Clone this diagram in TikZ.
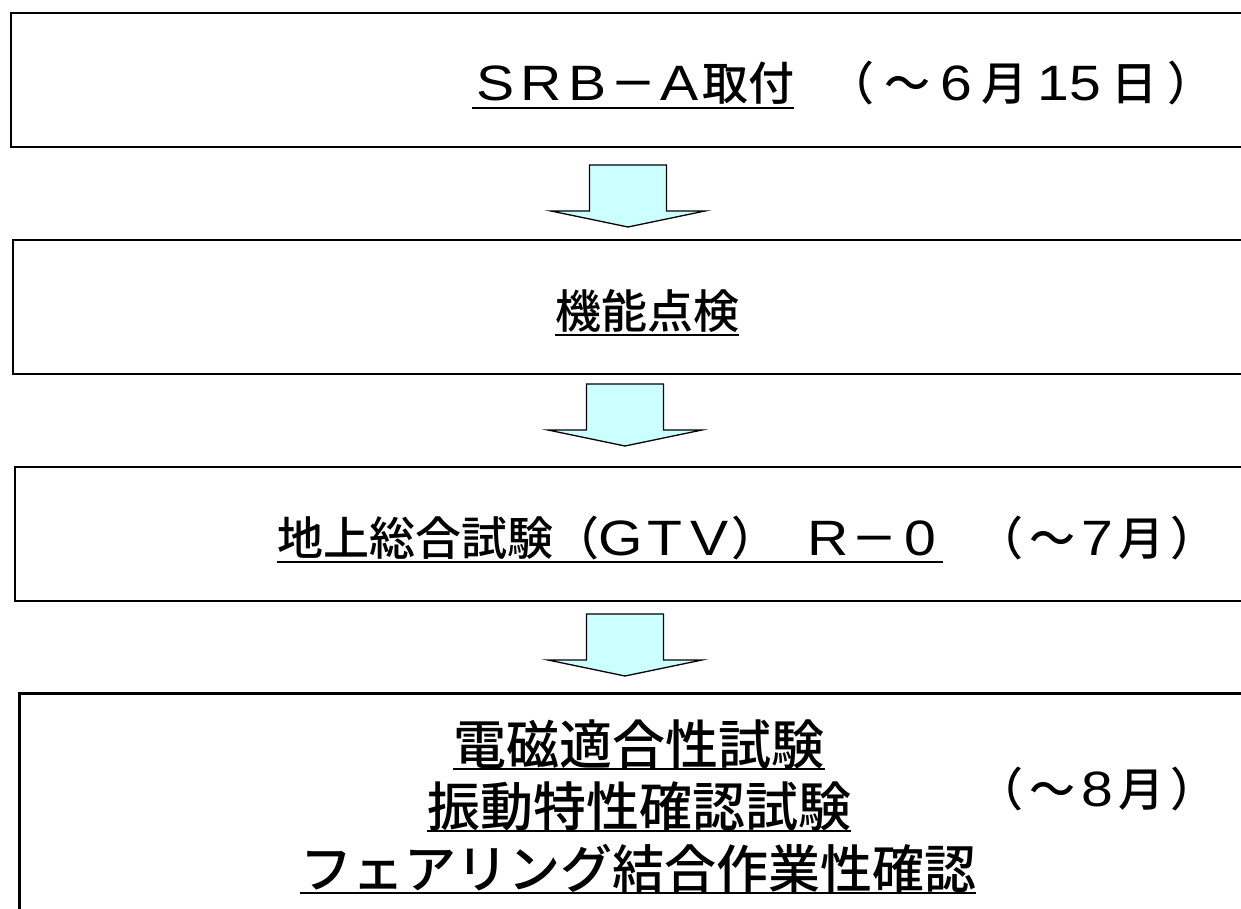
\documentclass[tikz,border=0pt]{standalone}
\usepackage{fontspec}
\setmainfont{Noto Sans CJK JP}[UprightFont=* Medium]
\newfontfamily\latinfont[Scale=1.08,FakeStretch=1.15]{Liberation Sans}
\newcommand\fwc[2][46pt]{\makebox[#1]{\latinfont #2}}
\newcommand\lat[1]{{\latinfont #1}}
\definecolor{arrowcyan}{RGB}{204,255,255}
\begin{document}
\begin{tikzpicture}[x=1pt,y=-1pt,
  box/.style={draw=black, line width=2pt, fill=white, anchor=north west, inner sep=0pt, minimum width=1260pt, minimum height=134pt},
  lbl/.style={inner sep=0pt, anchor=base west, font=\fontsize{46}{46}\selectfont},
  biglbl/.style={inner sep=0pt, anchor=base, font=\fontsize{53}{53}\selectfont},
  uline/.style={line width=2.8pt},
  barrow/.style={draw=black, fill=arrowcyan, line width=1.3pt, line join=miter},
  downarrow/.pic={\draw[barrow] (-38.5,-62) -- (38.5,-62) -- (38.5,-16) -- (77,-16) -- (0,0) -- (-77,-16) -- (-38.5,-16) -- cycle;}]
\useasboundingbox (0,0) rectangle (1241,909);
\clip (0,0) rectangle (1241,909);
\fill[white] (0,0) rectangle (1241,909);

\node[box] (b1) at (10,12) {};
\node[box] (b2) at (12,239) {};
\node[box] (b3) at (14,466) {};
\node[box, line width=3pt, minimum height=260pt] (b4) at (18,692) {};

\pic at (628,227) {downarrow};
\pic at (625,446) {downarrow};
\pic at (625,676) {downarrow};

\node[lbl] (t1) at (472,101) {\fwc{S}\fwc{R}\fwc{B}－\fwc{A}取付};
\draw[uline] ([yshift=-7pt]t1.base west) -- ([yshift=-7pt]t1.base east);
\node[lbl] (p1) at (828,101) {（\kern10pt～\kern10pt\lat{6}\kern10pt月\kern10pt\lat{15}\kern10pt日\kern10pt）};

\node[lbl] (t2) at (555,328) {機能点検};
\draw[uline] ([yshift=-7pt]t2.base west) -- ([yshift=-7pt]t2.base east);

\node[lbl] (t3) at (277,555) {地上総合試験（\fwc[44pt]{G}\fwc[44pt]{T}\fwc[44pt]{V}）\hspace{28pt}\fwc{R}－\fwc{0}};
\draw[uline] ([yshift=-7pt]t3.base west) -- ([yshift=-7pt]t3.base east);
\node[lbl] (p3) at (977,555) {（\kern6pt～\kern6pt\lat{7}\kern6pt月\kern6pt）};

\node[biglbl] (t4a) at (639,764) {電磁適合性試験};
\draw[uline] ([yshift=-5pt]t4a.base west) -- ([yshift=-5pt]t4a.base east);
\node[biglbl] (t4b) at (639,826) {振動特性確認試験};
\draw[uline] ([yshift=-5pt]t4b.base west) -- ([yshift=-5pt]t4b.base east);
\node[biglbl, font=\fontsize{52}{52}\selectfont] (t4c) at (638,888) {フェアリング結合作業性確認};
\draw[uline] ([yshift=-5pt]t4c.base west) -- ([yshift=-5pt]t4c.base east);
\node[lbl] (p4) at (977,806) {（\kern6pt～\kern6pt\lat{8}\kern6pt月\kern6pt）};
\end{tikzpicture}
\end{document}
